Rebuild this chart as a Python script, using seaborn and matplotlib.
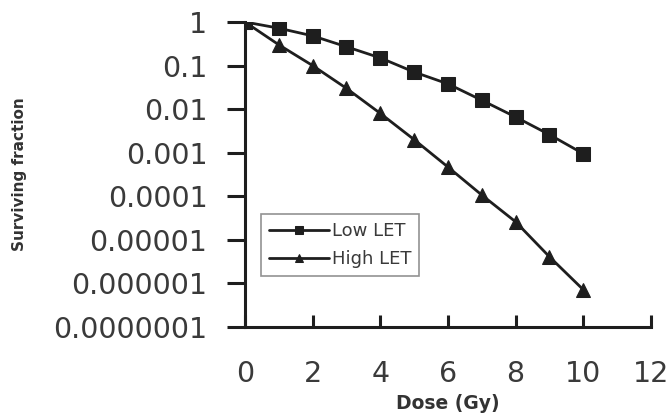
import matplotlib
matplotlib.use("Agg")
import matplotlib.pyplot as plt
import seaborn as sns
import pandas as pd
from matplotlib.ticker import FixedLocator, FixedFormatter, NullLocator

dose = [0, 1, 2, 3, 4, 5, 6, 7, 8, 9, 10]
low_let = [1.0, 0.72, 0.48, 0.27, 0.15, 0.071, 0.038, 0.016, 0.0066, 0.0026, 0.00095]
high_let = [1.0, 0.30, 0.10, 0.030, 0.008, 0.002, 0.00047, 0.000107, 0.000026, 0.0000041, 0.00000072]
y_ticks = [1, 0.1, 0.01, 0.001, 0.0001, 0.00001, 0.000001, 0.0000001]
y_tick_labels = ["1", "0.1", "0.01", "0.001", "0.0001", "0.00001", "0.000001", "0.0000001"]
x_ticks = [0, 2, 4, 6, 8, 10, 12]

sns.set_style("ticks")
plt.rcParams['font.family'] = ['DejaVu Sans']

df = pd.DataFrame({
    "Dose": dose * 2,
    "SF": low_let + high_let,
    "LET": ["Low LET"] * len(dose) + ["High LET"] * len(dose),
})

fig = plt.figure(figsize=(6.71, 4.19), dpi=100)
ax = fig.add_axes([0.365, 0.2196, 0.605, 0.728])

col = "#1e1e1e"
sns.lineplot(data=df, x="Dose", y="SF", style="LET",
             markers={"Low LET": "s", "High LET": "^"}, dashes=False,
             color=col, linewidth=2, markersize=9.5, markeredgecolor=col,
             ax=ax, legend=True)

ax.set_yscale("log")
ax.set_ylim(1e-7, 1)
ax.set_xlim(0, 12)
ax.yaxis.set_major_locator(FixedLocator(y_ticks))
ax.yaxis.set_major_formatter(FixedFormatter(y_tick_labels))
ax.yaxis.set_minor_locator(NullLocator())
ax.set_xticks(x_ticks)
ax.set_xticklabels([str(v) for v in x_ticks])

for s in ["top", "right"]:
    ax.spines[s].set_visible(False)
for s in ["left", "bottom"]:
    ax.spines[s].set_linewidth(2.2)
    ax.spines[s].set_color(col)

ax.tick_params(axis="y", direction="out", length=13, width=2.2, pad=14,
               labelsize=20.5, colors=col, labelcolor="#3a3a3a")
ax.tick_params(axis="x", direction="in", length=9, width=2.2, pad=24,
               labelsize=20.5, colors=col, labelcolor="#3a3a3a")

ax.set_xlabel("Dose (Gy)", fontsize=13.5, fontweight="bold", color="#333333", labelpad=4)
ax.set_ylabel("Surviving fraction", fontsize=11, fontweight="bold", color="#333333", labelpad=19)

leg = ax.legend(loc="upper left", bbox_to_anchor=(0.04, 0.37), frameon=True,
                fancybox=False, fontsize=13, handlelength=3.3, markerscale=0.6,
                borderpad=0.45, labelspacing=0.55, handletextpad=0.15, borderaxespad=0)
leg.get_frame().set_edgecolor("#777777")
leg.get_frame().set_linewidth(1.2)
for t in leg.get_texts():
    t.set_color("#3a3a3a")

fig.savefig("out.png", dpi=100)
